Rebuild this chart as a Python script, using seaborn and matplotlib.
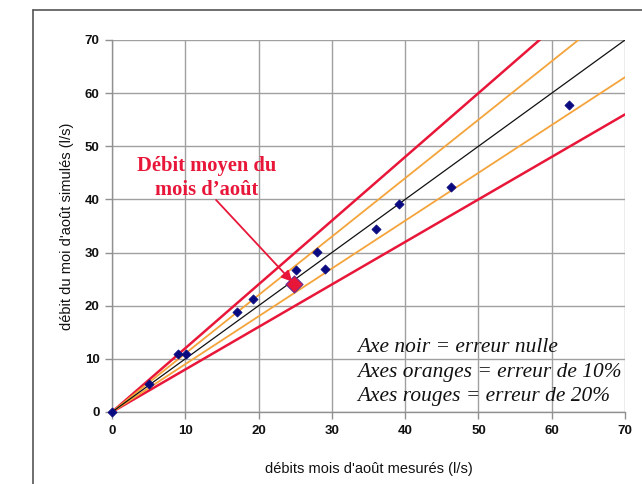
import matplotlib
matplotlib.use("Agg")
import matplotlib.pyplot as plt
import seaborn as sns
import pandas as pd
import numpy as np
from matplotlib.lines import Line2D

# data
measured = [0, 5, 9, 10.1, 17.1, 19.2, 25.1, 28.0, 29.1, 36.0, 39.2, 46.3, 62.3]
simulated = [0, 5.3, 10.9, 10.9, 18.8, 21.3, 26.7, 30.1, 26.9, 34.4, 39.2, 42.3, 57.7]
mean_measured = [24.9]
mean_simulated = [24.0]
line_x = [0, 70]
ratios = {"black": 1.0, "orange_hi": 1.1, "orange_lo": 0.9, "red_hi": 1.2, "red_lo": 0.8}
ticks = [0, 10, 20, 30, 40, 50, 60, 70]

sns.set_theme(style="white")
plt.rcParams['font.family'] = ['Liberation Sans', 'DejaVu Sans']

fig = plt.figure(figsize=(6.42, 4.84), dpi=100)
ax = fig.add_axes([112/642, 1-412/484, 513/642, 372/484])

red = "#e8173a"
orange = "#f4a43a"
styles = {"black": ("#111111", 0.9), "orange_hi": (orange, 1.3), "orange_lo": (orange, 1.3),
          "red_hi": (red, 1.8), "red_lo": (red, 1.8)}
for key in ["red_hi", "red_lo", "orange_hi", "orange_lo", "black"]:
    r = ratios[key]
    df = pd.DataFrame({"x": line_x, "y": [v * r for v in line_x]})
    c, lw = styles[key]
    sns.lineplot(data=df, x="x", y="y", ax=ax, color=c, linewidth=lw, zorder=3)

pts = pd.DataFrame({"x": measured, "y": simulated})
sns.scatterplot(data=pts, x="x", y="y", ax=ax, marker="D", s=22, color="#0a0a80",
                edgecolor="#0a0a80", linewidth=0.5, zorder=5, clip_on=False)
mean_df = pd.DataFrame({"x": mean_measured, "y": mean_simulated})
sns.scatterplot(data=mean_df, x="x", y="y", ax=ax, marker="D", s=75, color="#e8173a",
                edgecolor="#6a2a8a", linewidth=0.8, zorder=6)

ax.set_xlim(0, 70)
ax.set_ylim(0, 70)
ax.set_xticks(ticks)
ax.set_yticks(ticks)
ax.set_xticklabels([str(t) for t in ticks], fontweight="bold", fontsize=9.5)
ax.set_yticklabels([str(t) for t in ticks], fontweight="bold", fontsize=9.5)
ax.grid(True, color="#a0a0a0", linewidth=1.0)
ax.set_axisbelow(True)
for s in ["top", "right"]:
    ax.spines[s].set_visible(False)
for s in ["left", "bottom"]:
    ax.spines[s].set_color("#909090")
    ax.spines[s].set_linewidth(1.0)
ax.tick_params(axis="both", direction="out", length=5, width=1, color="#909090",
               labelcolor="#111111", pad=4, bottom=True, left=True)
ax.set_xlabel("débits mois d'août mesurés (l/s)", fontsize=10.5, color="#111111", labelpad=18)
ax.set_ylabel("débit du moi d'août simulés (l/s)", fontsize=10.5, color="#111111", labelpad=8)

ax.text(12.96, 44.1, "Débit moyen du\nmois d’août", ha="center", va="center",
        fontsize=14.8, fontweight="bold", color=red,
        family=["Liberation Serif", "DejaVu Serif"], linespacing=1.25, zorder=7)
ax.annotate("", xy=(24.6, 24.5), xytext=(14.2, 39.9),
            arrowprops=dict(arrowstyle="-|>", color=red, lw=1.3, mutation_scale=16,
                            shrinkA=0, shrinkB=0), zorder=7)

ax.text(33.5, 7.5, "Axe noir = erreur nulle\nAxes oranges = erreur de 10%\nAxes rouges = erreur de 20%",
        ha="left", va="center", fontsize=15.4, fontstyle="italic", color="#111111",
        family=["Liberation Serif", "DejaVu Serif"], linespacing=1.39, zorder=7)

# outer frame (left and top edges visible)
fx = 33/642
fy = 1 - 10/484
fig.add_artist(Line2D([fx, fx], [0, fy], transform=fig.transFigure, color="#555555", lw=1.2))
fig.add_artist(Line2D([fx, 1], [fy, fy], transform=fig.transFigure, color="#555555", lw=1.2))

fig.savefig("out.png", dpi=100)
